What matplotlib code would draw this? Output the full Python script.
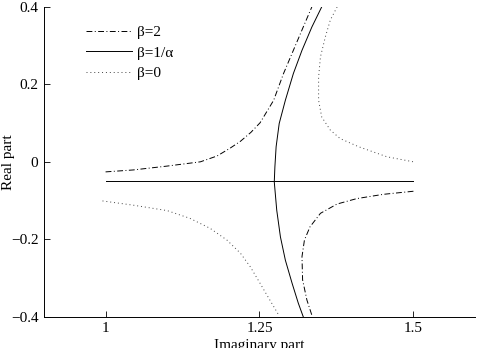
import matplotlib
matplotlib.use('Agg')
import matplotlib.pyplot as plt

plt.rcParams['font.family'] = ['Liberation Serif', 'DejaVu Serif']

# beta = 2 (dash-dot), two branches
b2_upper_x = [1.0, 1.045, 1.10, 1.154, 1.181, 1.202, 1.219, 1.236, 1.251, 1.273, 1.289, 1.305, 1.321, 1.335]
b2_upper_y = [-0.026, -0.021, -0.011, 0.0, 0.015, 0.035, 0.053, 0.076, 0.101, 0.159, 0.228, 0.288, 0.348, 0.40]
b2_lower_x = [1.5, 1.451, 1.408, 1.376, 1.349, 1.332, 1.323, 1.319, 1.320, 1.327, 1.335]
b2_lower_y = [-0.076, -0.084, -0.095, -0.109, -0.133, -0.168, -0.202, -0.245, -0.305, -0.357, -0.396]

# beta = 1/alpha (solid): horizontal line and curved branch
b1_line_x = [1.0, 1.5]
b1_line_y = [-0.05, -0.05]
b1_curve_x = [1.351, 1.335, 1.319, 1.305, 1.292, 1.282, 1.277, 1.275, 1.274, 1.278, 1.284, 1.292, 1.303, 1.313, 1.321]
b1_curve_y = [0.40, 0.348, 0.288, 0.228, 0.159, 0.099, 0.039, -0.013, -0.052, -0.125, -0.194, -0.254, -0.314, -0.365, -0.40]

# beta = 0 (dotted), two branches
b0_upper_x = [1.376, 1.365, 1.357, 1.349, 1.346, 1.346, 1.351, 1.365, 1.381, 1.411, 1.457, 1.5]
b0_upper_y = [0.40, 0.366, 0.323, 0.271, 0.219, 0.159, 0.116, 0.082, 0.060, 0.039, 0.013, 0.0]
b0_lower_x = [0.995, 1.045, 1.10, 1.137, 1.170, 1.197, 1.219, 1.235, 1.251, 1.262, 1.278, 1.282]
b0_lower_y = [-0.101, -0.112, -0.126, -0.146, -0.172, -0.202, -0.236, -0.271, -0.314, -0.344, -0.387, -0.398]

fig = plt.figure(figsize=(4.81, 3.48), dpi=100)
ax = fig.add_axes([0.0915, 0.09, 0.896, 0.89])

dashdot = (6, 2.5, 1, 2.5)
dotted = (1, 3)
lw = 0.7

ax.plot(b2_upper_x, b2_upper_y, color='black', lw=lw, dashes=dashdot, label='β=2')
ax.plot(b2_lower_x, b2_lower_y, color='black', lw=lw, dashes=dashdot)
ax.plot(b1_line_x, b1_line_y, color='black', lw=lw, label='β=1/α')
ax.plot(b1_curve_x, b1_curve_y, color='black', lw=lw)
ax.plot(b0_upper_x, b0_upper_y, color='#444444', lw=lw, dashes=dotted, label='β=0')
ax.plot(b0_lower_x, b0_lower_y, color='#444444', lw=lw, dashes=dotted)

ax.set_xlim(0.9, 1.6)
ax.set_ylim(-0.4, 0.4)
ax.set_xticks([1, 1.25, 1.5])
ax.set_xticklabels(['1', '1.25', '1.5'])
ax.set_yticks([-0.4, -0.2, 0, 0.2, 0.4])
ax.set_yticklabels(['\u22120.4', '\u22120.2', '0', '0.2', '0.4'])
ax.tick_params(direction='in', length=4, width=0.6, labelsize=11, pad=4)

ax.spines['top'].set_visible(False)
ax.spines['right'].set_visible(False)
ax.spines['left'].set_linewidth(0.7)
ax.spines['bottom'].set_linewidth(0.7)

ax.set_xlabel('Imaginary part', fontsize=11, va='top')
ax.xaxis.set_label_coords(0.5, -0.072)
ax.set_ylabel('Real part', fontsize=11, va='center')
ax.yaxis.set_label_coords(-0.083, 0.5)

ax.legend(loc='upper left', bbox_to_anchor=(0.065, 0.985), frameon=False, fontsize=11,
          handlelength=3.0, handletextpad=0.35, labelspacing=0.45)

fig.savefig('out.png', dpi=100)
